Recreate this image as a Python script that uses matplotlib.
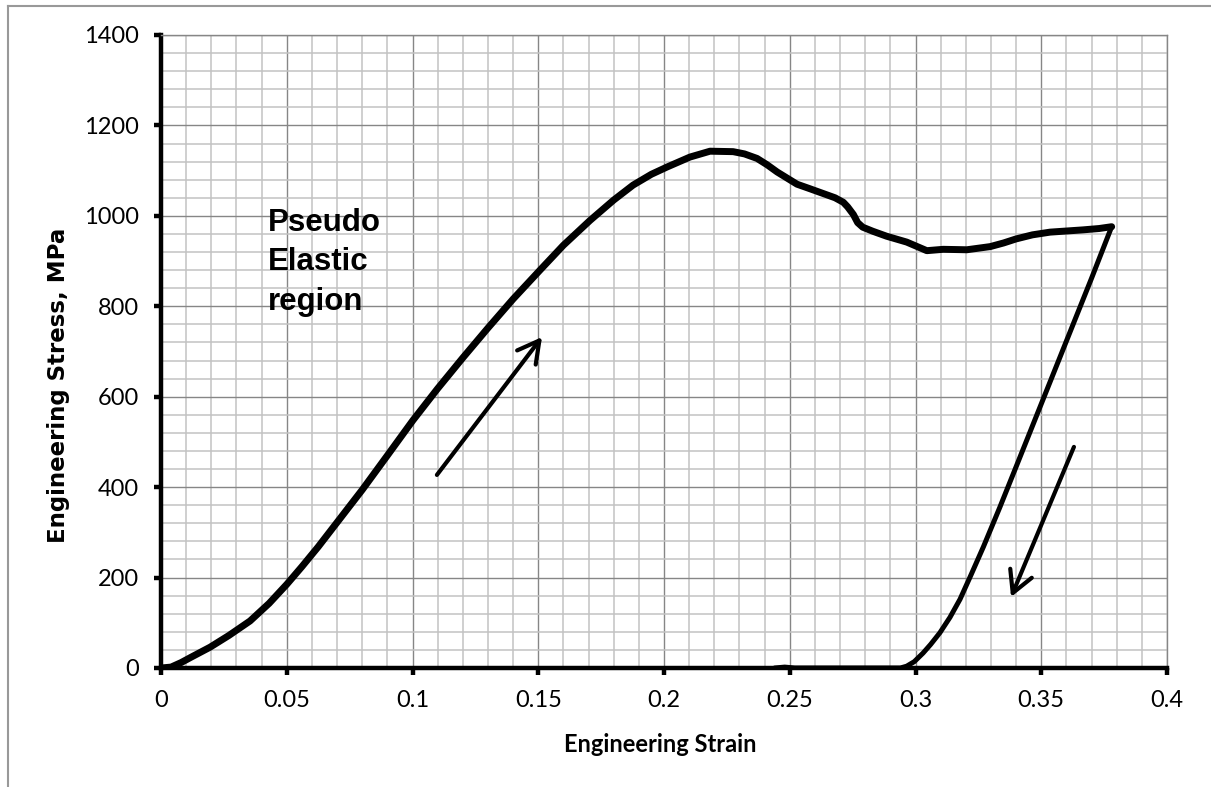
import matplotlib
matplotlib.use("Agg")
import matplotlib.pyplot as plt
from matplotlib.ticker import MultipleLocator
from matplotlib.lines import Line2D

# ---- data ----
load_strain = [0.0, 0.004, 0.008, 0.012, 0.0195, 0.027, 0.0354, 0.043, 0.050, 0.056,
               0.0625, 0.070, 0.080, 0.090, 0.1002, 0.110, 0.120, 0.130, 0.140, 0.1507,
               0.160, 0.1706, 0.180, 0.1877, 0.195, 0.2012, 0.2103, 0.2183, 0.2275, 0.232,
               0.237, 0.241, 0.245, 0.2529, 0.258, 0.263, 0.268, 0.2713, 0.273, 0.2753,
               0.277, 0.279, 0.283, 0.2885, 0.2965, 0.3045, 0.311, 0.3204, 0.3297, 0.335,
               0.340, 0.3465, 0.3535, 0.3666, 0.373, 0.378]
load_stress = [0, 2, 12, 24, 46, 72, 104, 143, 185, 224,
               268, 322, 394, 470, 548, 618, 686, 752, 816, 880,
               935, 990, 1035, 1068, 1092, 1108, 1130, 1143, 1142, 1137,
               1127, 1113, 1097, 1070, 1060, 1050, 1040, 1030, 1020, 1003,
               985, 975, 966, 955, 942, 923, 926, 925, 932, 940,
               949, 958, 964, 969, 972, 976]

unload_strain = [0.378, 0.370, 0.360, 0.350, 0.340, 0.3335, 0.327, 0.322, 0.3177, 0.3137,
                 0.3097, 0.306, 0.303, 0.2995, 0.2965, 0.294, 0.252, 0.248, 0.244]
unload_stress = [976, 862, 723, 584, 445, 355, 268, 205, 152, 112,
                 78, 52, 33, 14, 4, 0, 0, 2, 0]

x_ticks = [0, 0.05, 0.1, 0.15, 0.2, 0.25, 0.3, 0.35, 0.4]
x_tick_labels = ["0", "0.05", "0.1", "0.15", "0.2", "0.25", "0.3", "0.35", "0.4"]
y_ticks = [0, 200, 400, 600, 800, 1000, 1200, 1400]

arrow_up = ((0.1097, 427), (0.1515, 732))     # (tail, head)
arrow_down = ((0.363, 489), (0.338, 157))

# ---- figure ----
fig = plt.figure(figsize=(12.11, 7.87), dpi=100)
ax = fig.add_axes([161/1211, 1 - 668/787, (1167-161)/1211, (668-35)/787])

ax.set_xlim(0, 0.4)
ax.set_ylim(0, 1400)
ax.set_xticks(x_ticks)
ax.set_xticklabels(x_tick_labels)
ax.set_yticks(y_ticks)
ax.xaxis.set_minor_locator(MultipleLocator(0.01))
ax.yaxis.set_minor_locator(MultipleLocator(40))

ax.grid(which="minor", color="#c2c2c2", lw=1.1)
ax.grid(which="major", color="#868686", lw=1.0)
ax.set_axisbelow(True)

for s in ["left", "bottom"]:
    ax.spines[s].set_linewidth(3.2)
    ax.spines[s].set_color("black")
for s in ["top", "right"]:
    ax.spines[s].set_linewidth(1.0)
    ax.spines[s].set_color("#868686")

ax.tick_params(which="major", direction="out", length=5, width=3.2, color="black",
               labelsize=17)
ax.tick_params(axis="x", pad=11)
ax.tick_params(axis="y", pad=11)
ax.tick_params(which="minor", length=0)
for lab in ax.get_xticklabels() + ax.get_yticklabels():
    lab.set_fontfamily("Lato")

ax.plot(load_strain, load_stress, color="black", lw=5, solid_capstyle="round",
        solid_joinstyle="round", zorder=5)
ax.plot(unload_strain, unload_stress, color="black", lw=3.6, solid_capstyle="round",
        solid_joinstyle="round", zorder=5)

for (tail, head) in [arrow_up, arrow_down]:
    ax.annotate("", xy=head, xytext=tail,
                arrowprops=dict(arrowstyle="->,head_length=0.55,head_width=0.3",
                                lw=3, color="black", mutation_scale=28,
                                shrinkA=0, shrinkB=0),
                zorder=6)

ax.text(0.0425, 1018, "Pseudo\nElastic\nregion", fontfamily="Liberation Sans",
        fontweight="bold", fontsize=22.5, va="top", ha="left", linespacing=1.42, zorder=7)

ax.set_xlabel("Engineering Strain", fontfamily="Lato", fontweight="bold", fontsize=17)
ax.set_ylabel("Engineering Stress, MPa", fontfamily="DejaVu Sans", fontweight="bold",
              fontsize=16.5)
ax.xaxis.label.set_va("center")
ax.xaxis.set_label_coords(0.496, -0.1216)
ax.yaxis.set_label_coords(-0.0905, 0.447)

# outer frame (top and left edges visible in the reference)
fig.add_artist(Line2D([8/1211, 8/1211], [0, 1 - 6/787], transform=fig.transFigure,
                      color="#999999", lw=1.5))
fig.add_artist(Line2D([8/1211, 1.0], [1 - 6/787, 1 - 6/787], transform=fig.transFigure,
                      color="#999999", lw=1.5))

fig.savefig("out.png", dpi=100)
